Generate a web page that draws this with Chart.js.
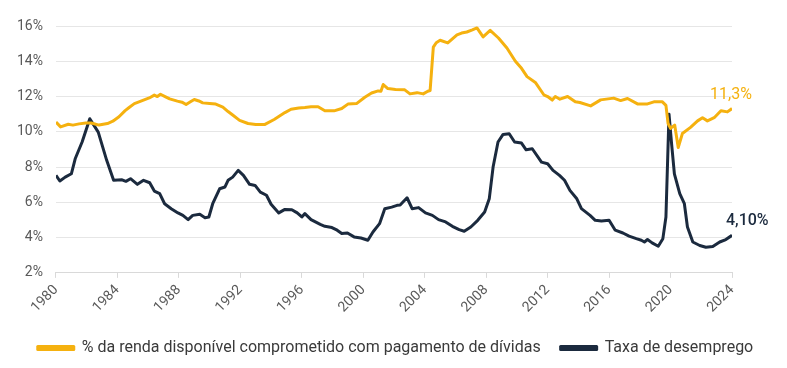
<!DOCTYPE html>
<html>
<head>
<meta charset="utf-8">
<script src="https://cdn.jsdelivr.net/npm/chart.js@4.4.1/dist/chart.umd.min.js"></script>
<style>
  html, body { margin: 0; padding: 0; background: #fff; }
  #wrap { width: 787px; height: 368px; }
</style>
</head>
<body>
<div id="wrap"><canvas id="grafico"></canvas></div>
<script>
// % da renda disponivel comprometido com dividas
const anosRenda = [1980.0,1980.3,1980.8,1981.1,1981.5,1981.94,1982.3,1982.8,1983.35,1983.7,1984.1,1984.5,1984.76,1985.1,1985.4,1986.07,1986.4,1986.6,1986.8,1987.1,1987.4,1987.9,1988.2,1988.47,1988.75,1989.0,1989.3,1989.55,1990.0,1990.4,1990.86,1991.2,1991.5,1991.95,1992.5,1993.0,1993.6,1994.2,1994.9,1995.3,1995.8,1996.2,1996.6,1997.06,1997.5,1998.1,1998.6,1999.0,1999.56,2000.1,2000.54,2000.97,2001.15,2001.3,2001.6,2002.1,2002.7,2003.04,2003.5,2003.9,2004.2,2004.35,2004.56,2004.75,2005.0,2005.5,2006.1,2006.4,2006.74,2007.1,2007.4,2007.8,2008.26,2008.8,2009.35,2009.9,2010.3,2010.66,2011.2,2011.75,2012.0,2012.3,2012.5,2012.8,2013.3,2013.8,2014.1,2014.8,2015.45,2016.3,2016.75,2017.2,2017.85,2018.5,2018.92,2019.47,2019.7,2019.84,2020.0,2020.27,2020.5,2020.77,2021.3,2021.76,2022.08,2022.4,2022.84,2023.28,2023.7,2024.0];
const renda = [10.55,10.28,10.43,10.38,10.45,10.5,10.5,10.38,10.47,10.6,10.85,11.2,11.38,11.6,11.7,11.92,12.08,12.0,12.13,12.0,11.87,11.74,11.68,11.55,11.7,11.83,11.75,11.64,11.6,11.57,11.4,11.15,10.95,10.65,10.47,10.42,10.42,10.7,11.09,11.28,11.35,11.38,11.42,11.42,11.19,11.19,11.32,11.57,11.6,11.96,12.2,12.32,12.3,12.68,12.45,12.4,12.38,12.15,12.22,12.15,12.3,12.34,14.8,15.05,15.19,15.04,15.5,15.6,15.66,15.78,15.89,15.38,15.75,15.32,14.75,14.0,13.6,13.13,12.8,12.1,12.0,11.8,12.0,11.85,12.0,11.7,11.66,11.47,11.81,11.91,11.77,11.89,11.58,11.58,11.7,11.7,11.5,10.47,10.19,10.38,9.11,9.9,10.25,10.62,10.8,10.62,10.8,11.19,11.13,11.32];

// taxa de desemprego
const anosDesemprego = [1980.0,1980.25,1980.6,1981.0,1981.25,1981.7,1982.2,1982.75,1983.3,1983.75,1984.3,1984.55,1984.85,1985.3,1985.7,1986.1,1986.4,1986.75,1987.07,1987.5,1987.94,1988.26,1988.6,1988.9,1989.36,1989.7,1989.95,1990.2,1990.65,1991.0,1991.2,1991.5,1991.86,1992.2,1992.6,1992.96,1993.3,1993.7,1994.0,1994.5,1994.9,1995.35,1995.7,1996.0,1996.2,1996.6,1997.2,1997.5,1997.96,1998.3,1998.6,1998.97,1999.4,1999.85,2000.3,2000.63,2001.06,2001.4,2001.85,2002.2,2002.4,2002.85,2003.18,2003.6,2004.05,2004.5,2004.9,2005.36,2005.8,2006.24,2006.57,2007.0,2007.45,2007.9,2008.2,2008.45,2008.77,2009.1,2009.5,2009.85,2010.3,2010.6,2011.0,2011.6,2012.0,2012.35,2012.77,2013.1,2013.45,2013.9,2014.2,2014.76,2015.1,2015.5,2016.0,2016.4,2016.9,2017.3,2017.77,2018.1,2018.3,2018.5,2018.8,2019.2,2019.5,2019.7,2019.9,2020.07,2020.25,2020.6,2020.9,2021.1,2021.45,2021.9,2022.3,2022.75,2023.2,2023.6,2024.0];
const desemprego = [7.53,7.21,7.43,7.62,8.47,9.42,10.74,9.98,8.38,7.25,7.28,7.19,7.34,7.02,7.25,7.11,6.64,6.49,5.92,5.64,5.4,5.26,5.02,5.26,5.32,5.13,5.17,5.92,6.77,6.87,7.25,7.43,7.81,7.53,7.02,6.96,6.58,6.4,5.89,5.4,5.6,5.58,5.4,5.17,5.36,5.02,4.75,4.64,4.57,4.42,4.23,4.26,4.04,3.98,3.85,4.32,4.79,5.64,5.73,5.83,5.85,6.26,5.64,5.7,5.4,5.26,5.02,4.89,4.64,4.45,4.36,4.6,4.98,5.45,6.2,8.0,9.42,9.85,9.89,9.42,9.36,8.98,9.04,8.28,8.19,7.81,7.53,7.25,6.68,6.2,5.64,5.26,4.98,4.94,4.98,4.42,4.26,4.08,3.94,3.85,3.75,3.89,3.7,3.51,3.94,5.17,11.0,9.3,7.62,6.49,5.92,4.6,3.75,3.55,3.45,3.49,3.75,3.89,4.13];

const rotulos = ['% da renda disponível comprometido com pagamento de dívidas', 'Taxa de desemprego'];
const rotulosFinais = ['11,3%', '4,10%'];

const AMARELO = '#F5B10F';
const AZUL = '#1B2A3E';

function pares(xs, ys) {
  return xs.map((x, i) => ({ x: x, y: ys[i] }));
}

// escreve o ultimo valor de cada serie junto ao fim da linha
const ultimoValor = {
  id: 'ultimoValor',
  afterDatasetsDraw(chart) {
    const ctx = chart.ctx;
    const sx = chart.scales.x, sy = chart.scales.y;
    ctx.save();
    ctx.textBaseline = 'middle';
    ctx.textAlign = 'left';
    chart.data.datasets.forEach((ds, i) => {
      const p = ds.data[ds.data.length - 1];
      const px = sx.getPixelForValue(p.x);
      const py = sy.getPixelForValue(p.y);
      ctx.fillStyle = ds.borderColor;
      ctx.font = (i === 1 ? '500 ' : '400 ') + '16px Roboto';
      ctx.fillText(rotulosFinais[i], px - (i === 0 ? 22 : 6), py - 14);
    });
    ctx.restore();
  }
};

new Chart(document.getElementById('grafico'), {
  type: 'line',
  data: {
    datasets: [
      {
        label: rotulos[0],
        data: pares(anosRenda, renda),
        borderColor: AMARELO,
        backgroundColor: AMARELO,
        borderWidth: 3,
        pointRadius: 0,
        tension: 0,
        borderJoinStyle: 'round'
      },
      {
        label: rotulos[1],
        data: pares(anosDesemprego, desemprego),
        borderColor: AZUL,
        backgroundColor: AZUL,
        borderWidth: 3,
        pointRadius: 0,
        tension: 0,
        borderJoinStyle: 'round'
      }
    ]
  },
  options: {
    responsive: true,
    maintainAspectRatio: false,
    animation: false,
    layout: { padding: { top: 26, right: 0, left: 4, bottom: 2 } },
    plugins: {
      legend: {
        position: 'bottom',
        labels: {
          boxWidth: 36,
          boxHeight: 3,
          padding: 20,
          color: '#3a3a3a',
          font: { family: 'Roboto', size: 16 }
        }
      },
      tooltip: { enabled: false }
    },
    scales: {
      x: {
        type: 'linear',
        min: 1980,
        max: 2024,
        grid: { drawOnChartArea: false, drawTicks: true, tickLength: 5, color: '#d9d9d9' },
        border: { display: true, color: '#d9d9d9' },
        ticks: {
          stepSize: 4,
          minRotation: 45,
          maxRotation: 45,
          padding: 4,
          color: '#595959',
          font: { family: 'Roboto', size: 14 },
          callback: v => String(v)
        }
      },
      y: {
        min: 2,
        max: 16,
        grid: { color: '#e6e6e6', drawTicks: false },
        border: { display: false },
        ticks: {
          stepSize: 2,
          padding: 13,
          color: '#595959',
          font: { family: 'Roboto', size: 14 },
          callback: v => v + '%'
        }
      },
      // eixo vazio a direita so para abrir espaco para os rotulos finais
      direita: {
        position: 'right',
        min: 2,
        max: 16,
        grid: { drawOnChartArea: false, drawTicks: false },
        border: { display: false },
        ticks: { display: false },
        afterFit(s) { s.width = 55; }
      }
    }
  },
  plugins: [ultimoValor]
});
</script>
</body>
</html>
